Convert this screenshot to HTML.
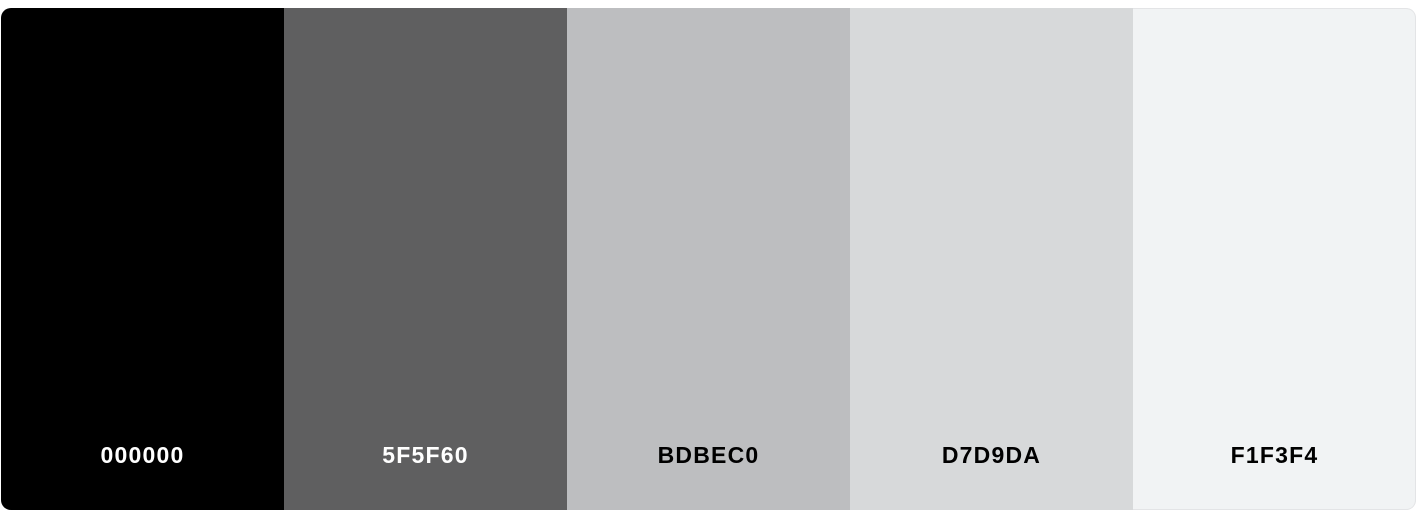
<!DOCTYPE html>
<html><head><meta charset="utf-8"><style>
html,body{margin:0;padding:0;background:#fff;width:1424px;height:520px;overflow:hidden}
.pal{position:absolute;left:1px;top:8px;width:1415px;height:502px;border-radius:10px;overflow:hidden;display:flex;box-shadow:0 0 0 1px #e3e4e6 inset}
.sw{width:283px;height:100%;position:relative}
.sw span{position:absolute;left:0;right:0;top:434px;text-align:center;font:bold 23px "Liberation Sans",sans-serif;letter-spacing:1.2px}
</style></head><body>
<div class="pal">
<div class="sw" style="background:#000000"><span style="color:#fff">000000</span></div>
<div class="sw" style="background:#5F5F60"><span style="color:#fff">5F5F60</span></div>
<div class="sw" style="background:#BDBEC0"><span style="color:#000">BDBEC0</span></div>
<div class="sw" style="background:#D7D9DA"><span style="color:#000">D7D9DA</span></div>
<div class="sw" style="background:#F1F3F4;border-radius:0 10px 10px 0;box-shadow:inset -1px 0 0 #e3e4e6,inset 0 1px 0 #e3e4e6,inset 0 -1px 0 #e3e4e6"><span style="color:#000">F1F3F4</span></div>
</div>
</body></html>
